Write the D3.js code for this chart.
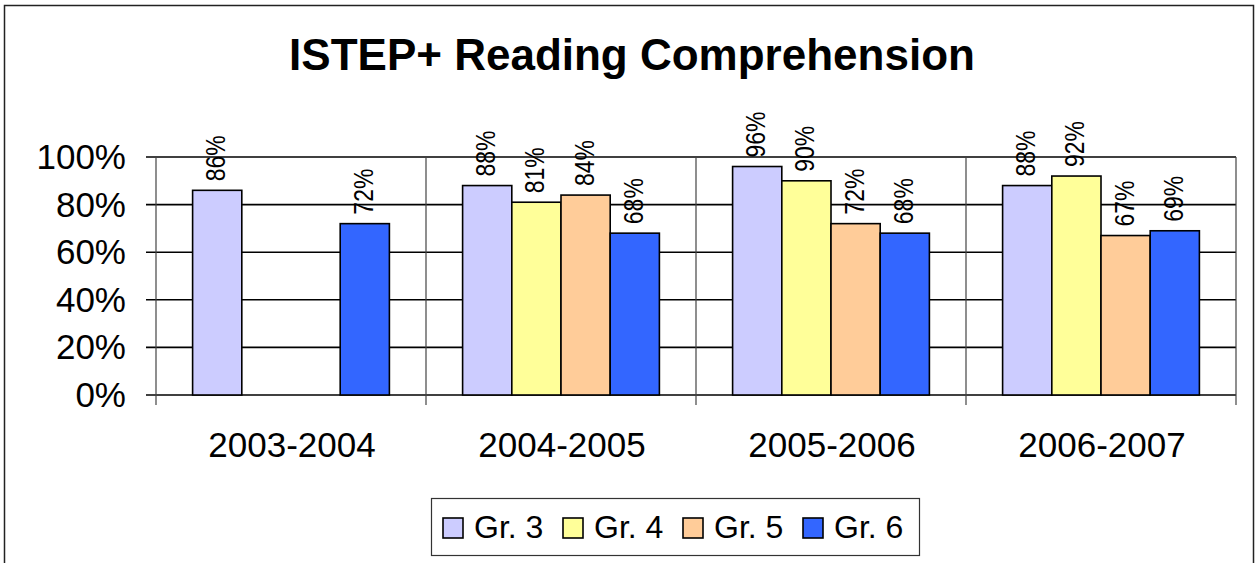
<!DOCTYPE html>
<html>
<head>
<meta charset="utf-8">
<script src="https://cdn.jsdelivr.net/npm/d3@7"></script>
<style>
  html, body { margin: 0; padding: 0; background: #fff; }
  svg { display: block; font-family: Arial, "Liberation Sans", sans-serif; }
</style>
</head>
<body>
<svg id="chart"></svg>
<script>
(function () {
  'use strict';

  const years = ['2003-2004', '2004-2005', '2005-2006', '2006-2007'];
  const grades = ['Gr. 3', 'Gr. 4', 'Gr. 5', 'Gr. 6'];
  const gr3 = [0.86, 0.88, 0.96, 0.88];
  const gr4 = [null, 0.81, 0.90, 0.92];
  const gr5 = [null, 0.84, 0.72, 0.67];
  const gr6 = [0.72, 0.68, 0.68, 0.69];
  const yTicks = [0, 0.2, 0.4, 0.6, 0.8, 1.0];
  const colors = ['#CCCCFF', '#FFFF99', '#FFCC99', '#3366FF'];

  const series = [gr3, gr4, gr5, gr6];

  const width = 1256;
  const height = 563;
  const plot = { left: 156, right: 1236, top: 157, bottom: 395 };

  const svg = d3.select('#chart')
    .attr('width', width)
    .attr('height', height);

  // outer chart border (bottom edge is cut off in the picture)
  svg.append('rect')
    .attr('x', 4.5).attr('y', 5.5)
    .attr('width', 1249).attr('height', 570)
    .attr('fill', '#fff')
    .attr('stroke', '#222')
    .attr('stroke-width', 1.5);

  svg.append('text')
    .attr('x', 632).attr('y', 70)
    .attr('text-anchor', 'middle')
    .attr('font-size', 44)
    .attr('font-weight', 'bold')
    .text('ISTEP+ Reading Comprehension');

  const x = d3.scaleBand()
    .domain(years)
    .range([plot.left, plot.right])
    .paddingInner(0).paddingOuter(0);

  const xInner = d3.scaleBand()
    .domain(d3.range(grades.length))
    .range([0, x.bandwidth()])
    .paddingInner(0).paddingOuter(0.744);

  const y = d3.scaleLinear()
    .domain([0, 1])
    .range([plot.bottom, plot.top]);

  // gridlines
  svg.append('g')
    .selectAll('line')
    .data(yTicks)
    .join('line')
      .attr('x1', plot.left - 10)
      .attr('x2', plot.right)
      .attr('y1', d => y(d))
      .attr('y2', d => y(d))
      .attr('stroke', '#000')
      .attr('stroke-width', 1.6);

  // y axis labels
  svg.append('g')
    .selectAll('text')
    .data(yTicks)
    .join('text')
      .attr('x', 126)
      .attr('y', d => y(d) + 12)
      .attr('text-anchor', 'end')
      .attr('font-size', 35)
      .text(d => d3.format('.0%')(d));

  // category separators
  const seps = years.map(d => x(d)).concat([plot.right]);
  svg.append('g')
    .selectAll('line')
    .data(seps)
    .join('line')
      .attr('x1', d => d).attr('x2', d => d)
      .attr('y1', plot.top).attr('y2', plot.bottom + 10)
      .attr('stroke', '#444')
      .attr('stroke-width', 1.2);

  // category labels
  svg.append('g')
    .selectAll('text')
    .data(years)
    .join('text')
      .attr('x', d => x(d) + x.bandwidth() / 2 + 1)
      .attr('y', 457)
      .attr('text-anchor', 'middle')
      .attr('font-size', 35)
      .text(d => d);

  // bars
  const bars = [];
  series.forEach((vals, s) => {
    vals.forEach((v, i) => {
      if (v !== null) bars.push({ year: years[i], s: s, value: v });
    });
  });

  svg.append('g')
    .selectAll('rect')
    .data(bars)
    .join('rect')
      .attr('x', d => x(d.year) + xInner(d.s))
      .attr('y', d => y(d.value))
      .attr('width', xInner.bandwidth())
      .attr('height', d => y(0) - y(d.value))
      .attr('fill', d => colors[d.s])
      .attr('stroke', '#000')
      .attr('stroke-width', 1.6);

  // rotated value labels, a bit stretched across like the original
  svg.append('g')
    .selectAll('text')
    .data(bars)
    .join('text')
      .attr('transform', d => {
        const cx = x(d.year) + xInner(d.s) + xInner.bandwidth() / 2 + 8;
        const cy = y(d.value) - 9;
        return `translate(${cx},${cy}) rotate(-90) scale(1,1.2)`;
      })
      .attr('font-size', 23)
      .text(d => d3.format('.0%')(d.value));

  // legend
  const legend = svg.append('g');
  legend.append('rect')
    .attr('x', 431.5).attr('y', 498.5)
    .attr('width', 488).attr('height', 57)
    .attr('fill', '#fff')
    .attr('stroke', '#333')
    .attr('stroke-width', 1.2);

  const items = legend.selectAll('g')
    .data(grades)
    .join('g')
      .attr('transform', (d, i) => `translate(${443 + i * 120},518)`);

  items.append('rect')
    .attr('width', 20).attr('height', 20)
    .attr('fill', (d, i) => colors[i])
    .attr('stroke', '#000')
    .attr('stroke-width', 1.6);

  items.append('text')
    .attr('x', 31).attr('y', 20)
    .attr('font-size', 32)
    .text(d => d);
}());
</script>
</body>
</html>
